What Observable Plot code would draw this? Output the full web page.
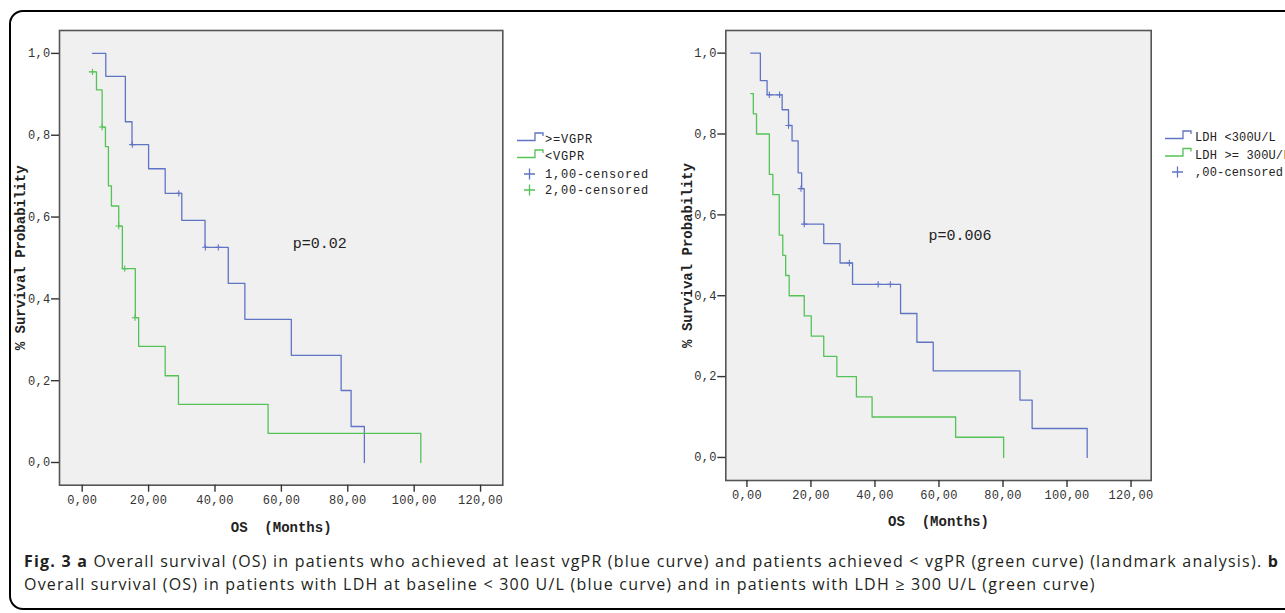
<!DOCTYPE html>
<html><head><meta charset="utf-8">
<script src="https://cdn.jsdelivr.net/npm/d3@7"></script>
<script src="https://cdn.jsdelivr.net/npm/@observablehq/plot@0.6"></script>
<style>
html,body{margin:0;padding:0;background:#fff;}
body{width:1285px;height:613px;overflow:hidden;position:relative;}
#frame{position:absolute;left:9px;top:10px;width:1400px;height:600px;border:2.5px solid #000;border-radius:14px;box-sizing:border-box;}
.panel{position:absolute;top:0;}
.panel svg text{white-space:pre;}
.panel svg g[aria-label="x-axis tick label"] text,.panel svg g[aria-label="y-axis tick label"] text{letter-spacing:0.3px;}
#legend{position:absolute;left:0;top:0;overflow:visible;}
#caption{position:absolute;left:24px;top:550px;font-family:"Open Sans";font-size:16px;line-height:23px;color:#231f20;white-space:nowrap;}
#caption b{font-weight:700;}
</style></head><body>
<div id="frame"></div>
<div id="left" class="panel" style="left:0px"></div>
<div id="right" class="panel" style="left:640px"></div>
<svg id="legend" width="1285" height="613"></svg>
<div id="caption"><div id="cap1"><b>Fig. 3 a</b> Overall survival (OS) in patients who achieved at least vgPR (blue curve) and patients achieved &lt; vgPR (green curve) (landmark analysis). <b>b</b></div><div id="cap2">Overall survival (OS) in patients with LDH at baseline &lt; 300 U/L (blue curve) and in patients with LDH ≥ 300 U/L (green curve)</div></div>
<script>
// ---- shared axis data ----
const xTicks = [0, 20, 40, 60, 80, 100, 120];
const yTicks = [0, 0.2, 0.4, 0.6, 0.8, 1.0];
const xTitle = "OS  (Months)";
const yTitle = "% Survival Probability";

// ---- panel a: >=VGPR (blue) vs <VGPR (green) ----
const aBlueT = [3.1, 7.1, 13.0, 15.0, 20.0, 25.0, 30.0, 37.0, 44.0, 49.0, 63.0, 78.0, 81.0, 85.0];
const aBlueS = [1.0, 0.944, 0.833, 0.777, 0.718, 0.658, 0.592, 0.526, 0.438, 0.350, 0.262, 0.176, 0.088, 0];
const aBlueCensT = [15.1, 29.1, 37.1, 41.0];
const aBlueCensS = [0.777, 0.658, 0.526, 0.526];
const aGreenT = [2.2, 4.3, 6.0, 7.0, 7.9, 8.8, 11.0, 12.1, 16.0, 17.0, 25.0, 29.0, 56.0, 102.0];
const aGreenS = [0.955, 0.911, 0.820, 0.772, 0.676, 0.627, 0.578, 0.474, 0.354, 0.284, 0.212, 0.142, 0.071, 0];
const aGreenCensT = [3.1, 6.0, 11.0, 12.8, 15.9];
const aGreenCensS = [0.955, 0.820, 0.578, 0.474, 0.354];
const aLegend = [">=VGPR", "<VGPR", "1,00-censored", "2,00-censored"];
const aPText = ["p=0.02"];
const aPT = [63.4];
const aPS = [0.536];

// ---- panel b: LDH <300 (blue) vs LDH >=300 (green) ----
const bBlueT = [1.2, 4.2, 6.3, 11.0, 13.0, 14.1, 16.0, 17.1, 17.9, 24.0, 29.1, 33.0, 48.0, 53.1, 58.2, 85.3, 89.1, 106.3];
const bBlueS = [1.0, 0.932, 0.897, 0.860, 0.821, 0.783, 0.704, 0.665, 0.577, 0.529, 0.481, 0.428, 0.356, 0.285, 0.214, 0.142, 0.0716, 0];
const bBlueCensT = [7.0, 10.2, 13.0, 16.9, 17.9, 32.0, 41.0, 44.8];
const bBlueCensS = [0.897, 0.897, 0.821, 0.665, 0.577, 0.481, 0.428, 0.428];
const bGreenT = [1.2, 2.0, 3.0, 7.0, 8.1, 10.1, 11.2, 12.1, 13.2, 17.9, 20.1, 24.0, 28.1, 34.2, 39.1, 65.2, 80.2];
const bGreenS = [0.90, 0.85, 0.80, 0.70, 0.65, 0.55, 0.50, 0.45, 0.40, 0.35, 0.30, 0.25, 0.20, 0.15, 0.10, 0.05, 0];
const bLegend = ["LDH <300U/L", "LDH >= 300U/L", ",00-censored"];
const bPText = ["p=0.006"];
const bPT = [56.7];
const bPS = [0.549];

const BLUE = "#6074c4";
const GREEN = "#55c257";
const MONO = "Liberation Mono";

function kmPanel(o) {
  const marks = [
    Plot.frame({fill: "#f0f0f0", stroke: "#555", strokeWidth: 1.6}),
    Plot.axisX({ticks: xTicks, tickFormat: d => d.toFixed(2).replace(".", ","), tickSize: 7, tickPadding: 3, strokeWidth: 1.4, stroke: "#333", fill: "#333", label: null}),
    Plot.axisY({ticks: yTicks, tickFormat: d => d.toFixed(1).replace(".", ","), tickSize: 8, tickPadding: 1, strokeWidth: 1.4, stroke: "#333", fill: "#333", label: null}),
    Plot.text([xTitle], {frameAnchor: "bottom", dy: o.xTitleDy, text: d => d, textAnchor: "middle", fontWeight: "bold", fontSize: 14, fill: "#222", lineAnchor: "middle", style: "letter-spacing:1px"}),
    Plot.text([yTitle], {frameAnchor: "left", dx: -38.5, rotate: -90, text: d => d, textAnchor: "middle", fontWeight: "bold", fontSize: 14, fill: "#222", lineAnchor: "middle", style: "letter-spacing:1.5px"}),
  ];
  for (const c of o.curves) {
    marks.push(Plot.line(c.t, {x: c.t, y: c.s, curve: "step-after", stroke: c.color, strokeWidth: 1.3}));
  }
  for (const c of o.cens) {
    marks.push(Plot.dot(c.t, {x: c.t, y: c.s, symbol: "plus", r: 2.2, stroke: c.color, strokeWidth: 1.1}));
  }
  marks.push(Plot.text(o.pText, {x: o.pT, y: o.pS, text: o.pText, textAnchor: "start", fontSize: 15, fill: "#222"}));
  return Plot.plot({
    width: o.width, height: 540,
    marginLeft: o.ml, marginRight: o.mr, marginTop: 30, marginBottom: o.mb,
    x: {domain: o.xd, axis: null},
    y: {domain: o.yd, axis: null},
    style: {fontFamily: MONO, fontSize: "12px", color: "#333", background: "transparent", overflow: "visible"},
    marks
  });
}

const plotA = kmPanel({
  width: 640, ml: 59, mr: 137.7, mb: 55.3, xd: [-6.84, 126.7], yd: [-0.0555, 1.056], xTitleDy: 42,
  curves: [{t: aBlueT, s: aBlueS, color: BLUE}, {t: aGreenT, s: aGreenS, color: GREEN}],
  cens: [{t: aBlueCensT, s: aBlueCensS, color: BLUE}, {t: aGreenCensT, s: aGreenCensS, color: GREEN}],
  pText: aPText, pT: aPT, pS: aPS
});
document.getElementById("left").appendChild(plotA);

const plotB = kmPanel({
  width: 645, ml: 85.3, mr: 134.3, mb: 60, xd: [-6.6, 126.3], yd: [-0.057, 1.056], xTitleDy: 40.7,
  curves: [{t: bBlueT, s: bBlueS, color: BLUE}, {t: bGreenT, s: bGreenS, color: GREEN}],
  cens: [{t: bBlueCensT, s: bBlueCensS, color: BLUE}],
  pText: bPText, pT: bPT, pS: bPS
});
document.getElementById("right").appendChild(plotB);

// ---- legends ----
const leg = d3.select("#legend");
function legendBlock(items, kinds, colors, rowsY, x0, textGap, ls) {
  items.forEach((label, i) => {
    const cy = rowsY[i];
    const g = leg.append("g");
    if (kinds[i] === "line") {
      g.append("path")
        .attr("d", `M${x0},${cy + 1.5}H${x0 + 18}V${cy - 6}H${x0 + 26}V${cy - 3}`)
        .attr("fill", "none").attr("stroke", colors[i]).attr("stroke-width", 1.3);
    } else {
      const cx = x0 + 12.5;
      g.append("path")
        .attr("d", `M${cx - 5.5},${cy}H${cx + 5.5}M${cx},${cy - 5.5}V${cy + 5.5}`)
        .attr("fill", "none").attr("stroke", colors[i]).attr("stroke-width", 1.3);
    }
    g.append("text").attr("x", x0 + textGap).attr("y", cy).attr("dy", "0.35em")
      .attr("font-family", MONO).attr("font-size", 12).attr("letter-spacing", ls + "px")
      .attr("fill", "#222").style("white-space", "pre").text(label);
  });
}
legendBlock(aLegend, ["line", "line", "plus", "plus"], [BLUE, GREEN, BLUE, GREEN], [139, 156, 174, 190], 517, 28, 0.8);
legendBlock(bLegend, ["line", "line", "plus"], [BLUE, GREEN, BLUE], [137, 154.5, 172], 1165, 30, 0.15);

// ---- caption fit ----
const c1 = document.getElementById("cap1");
c1.style.display = "inline-block";
const w = c1.getBoundingClientRect().width;
const n = c1.textContent.length;
const ls = Math.max(0, (1255 - w) / n);
document.getElementById("caption").style.letterSpacing = ls + "px";
c1.style.display = "block";
</script>
</body></html>
